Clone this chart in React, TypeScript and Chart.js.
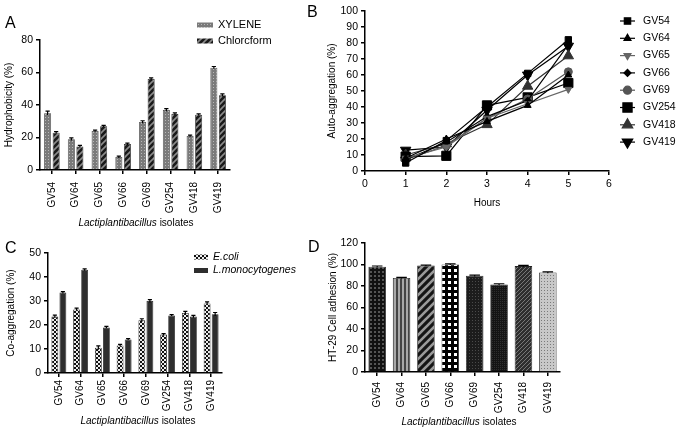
import { useEffect, useRef } from 'react'
import { Chart, registerables } from 'chart.js'
import { drawPoint } from 'chart.js/helpers'

Chart.register(...registerables)

const FONT = "'Liberation Sans', Arial, Helvetica, sans-serif"
Chart.defaults.font.family = FONT
Chart.defaults.color = '#000'

const ISOLATES = ['GV54', 'GV64', 'GV65', 'GV66', 'GV69', 'GV254', 'GV418', 'GV419']

// A: hydrophobicity (%)
const XYLENE = [35, 19, 24, 8, 29.5, 37, 21, 63]
const XYLENE_ERR = [1.2, 0.8, 0.5, 0.6, 0.8, 0.8, 0.5, 0.7]
const CHLORCFORM = [23, 14.5, 27, 16, 56, 34.5, 34, 46]
const CHLORCFORM_ERR = [0.6, 0.6, 0.5, 0.6, 0.7, 0.6, 0.5, 0.8]

// B: auto-aggregation (%) over hours
const HOURS = [1, 2, 3, 4, 5]
const AGG_GV54 = [5, 19, 40, 61, 82]
const AGG_GV64 = [8, 20, 31, 41, 60]
const AGG_GV65 = [8, 15, 33, 42, 51]
const AGG_GV66 = [7, 18, 34, 44, 79]
const AGG_GV69 = [7, 16, 33, 45, 62]
const AGG_GV254 = [9, 9.5, 41, 46, 55]
const AGG_GV418 = [10, 17, 29, 53, 72]
const AGG_GV419 = [13, 15, 38, 60, 78]

// C: co-aggregation (%)
const ECOLI = [23.5, 26.5, 10.5, 11.5, 22, 16, 25, 29]
const ECOLI_ERR = [0.6, 0.5, 0.8, 0.4, 0.6, 0.4, 0.7, 0.6]
const LMONO = [33.5, 43, 19, 14, 30, 24, 23.5, 24.5]
const LMONO_ERR = [0.4, 0.4, 0.4, 0.3, 0.6, 0.3, 0.5, 0.7]

// D: HT-29 cell adhesion (%)
const ADHESION = [98, 87.5, 99, 100, 89.5, 81.5, 98.5, 92.5]
const ADHESION_ERR = [0.6, 0.5, 0.5, 0.5, 0.6, 0.6, 0.6, 0.7]

// --- fill patterns ---
function tile(size: number, draw: (g: CanvasRenderingContext2D, s: number) => void) {
  const c = document.createElement('canvas')
  c.width = size
  c.height = size
  const g = c.getContext('2d')!
  draw(g, size)
  return g.createPattern(c, 'repeat')!
}
const dots = (bg: string, fg: string, s: number, d: number) =>
  tile(s, (g) => { g.fillStyle = bg; g.fillRect(0, 0, s, s); g.fillStyle = fg; g.fillRect(0, 0, d, d) })
const diag = (bg: string, fg: string, s: number, lw: number) =>
  tile(s, (g) => {
    g.fillStyle = bg; g.fillRect(0, 0, s, s)
    g.strokeStyle = fg; g.lineWidth = lw
    g.beginPath()
    g.moveTo(-1, s + 1); g.lineTo(s + 1, -1)
    g.moveTo(-s / 2 - 1, s / 2 + 1); g.lineTo(s / 2 + 1, -s / 2 - 1)
    g.moveTo(s / 2 - 1, s * 1.5 + 1); g.lineTo(s * 1.5 + 1, s / 2 - 1)
    g.stroke()
  })
const vstripes = (bg: string, fg: string, s: number, w: number) =>
  tile(s, (g) => { g.fillStyle = bg; g.fillRect(0, 0, s, s); g.fillStyle = fg; g.fillRect(0, 0, w, s) })
const checker = (bg: string, fg: string, s: number) =>
  tile(s, (g) => {
    g.fillStyle = bg; g.fillRect(0, 0, s, s)
    g.fillStyle = fg; g.fillRect(0, 0, s / 2, s / 2); g.fillRect(s / 2, s / 2, s / 2, s / 2)
  })

// --- plugins ---
const errorBars = {
  id: 'errorBars',
  afterDatasetsDraw(chart: any) {
    const { ctx } = chart
    const y = chart.scales.y
    chart.data.datasets.forEach((ds: any, i: number) => {
      if (!ds.errors) return
      const meta = chart.getDatasetMeta(i)
      ctx.save()
      ctx.strokeStyle = '#000'
      ctx.lineWidth = 1.2
      meta.data.forEach((bar: any, j: number) => {
        const v = ds.data[j]
        const e = ds.errors[j]
        const top = y.getPixelForValue(v + e)
        const bot = y.getPixelForValue(v - e)
        const half = bar.width * 0.3
        ctx.beginPath()
        ctx.moveTo(bar.x, top); ctx.lineTo(bar.x, bot)
        ctx.moveTo(bar.x - half, top); ctx.lineTo(bar.x + half, top)
        ctx.stroke()
      })
      ctx.restore()
    })
  },
}

// swatch legend for bar panels
const swatchLegend = {
  id: 'swatchLegend',
  afterDraw(chart: any, _args: any, opts: any) {
    const { ctx } = chart
    ctx.save()
    chart.data.datasets.forEach((ds: any, i: number) => {
      const y = opts.y + i * opts.dy
      ctx.fillStyle = ds.backgroundColor
      ctx.fillRect(opts.x, y - opts.h / 2, opts.w, opts.h)
      ctx.fillStyle = '#000'
      ctx.font = `${opts.italic ? 'italic ' : ''}${opts.size}px ${FONT}`
      ctx.textBaseline = 'middle'
      ctx.fillText(ds.label, opts.x + opts.w + 5, y)
    })
    ctx.restore()
  },
}

// line + marker legend for panel B
const markerLegend = {
  id: 'markerLegend',
  afterDraw(chart: any, _args: any, opts: any) {
    const { ctx } = chart
    ctx.save()
    chart.data.datasets.forEach((ds: any, i: number) => {
      const y = opts.y + i * opts.dy
      ctx.strokeStyle = ds.borderColor
      ctx.lineWidth = 1.2
      ctx.beginPath()
      ctx.moveTo(opts.x, y); ctx.lineTo(opts.x + opts.w, y)
      ctx.stroke()
      ctx.fillStyle = ds.pointBackgroundColor
      ctx.strokeStyle = ds.borderColor
      drawPoint(ctx, { pointStyle: ds.pointStyle, rotation: ds.pointRotation || 0, radius: ds.pointRadius, borderWidth: 1 }, opts.x + opts.w / 2, y)
      ctx.fillStyle = '#000'
      ctx.font = `10.5px ${FONT}`
      ctx.textBaseline = 'middle'
      ctx.fillText(ds.label, opts.x + opts.w + 8, y)
    })
    ctx.restore()
  },
}

const border = { display: true, color: '#000', width: 1.5 }
const ticksGrid = { drawOnChartArea: false, drawTicks: true, tickLength: 4, color: '#000', lineWidth: 1.5, offset: false }
const tickFont = { size: 10, family: FONT }
const yTickFont = { size: 10.5, family: FONT }

function barX(height: number, pad: number) {
  return {
    offset: true,
    border,
    grid: ticksGrid,
    ticks: { color: '#000', font: tickFont, minRotation: 90, maxRotation: 90, autoSkip: false, padding: pad },
    afterFit: (s: any) => { s.height = height },
  }
}
function yAxis(width: number, max: number, step: number, title: string, titlePad: number) {
  return {
    min: 0,
    max,
    border,
    grid: ticksGrid,
    ticks: { color: '#000', font: yTickFont, stepSize: step, padding: 3 },
    title: { display: true, text: title, color: '#000', font: { size: 10, family: FONT }, padding: { top: titlePad, bottom: 0 } },
    afterFit: (s: any) => { s.width = width },
  }
}

function buildA(): any {
  return {
    type: 'bar',
    data: {
      labels: ISOLATES,
      datasets: [
        { label: 'XYLENE', data: XYLENE, errors: XYLENE_ERR, backgroundColor: dots('#7a7a7a', '#b8b8b8', 3, 1), borderColor: '#444', borderWidth: 0.8 },
        { label: 'Chlorcform', data: CHLORCFORM, errors: CHLORCFORM_ERR, backgroundColor: diag('#1a1a1a', '#8c8c8c', 6, 1.6), borderColor: '#222', borderWidth: 0.8 },
      ],
    },
    options: {
      animation: false,
      responsive: true,
      maintainAspectRatio: false,
      categoryPercentage: 0.72,
      barPercentage: 0.82,
      layout: { padding: { left: 0, top: 40, right: 110, bottom: 0 } },
      plugins: {
        legend: { display: false },
        tooltip: { enabled: false },
        swatchLegend: { x: 197, y: 25, dy: 16, w: 16, h: 5, italic: false, size: 11 },
      },
      scales: {
        x: barX(62, 8),
        y: yAxis(40, 80, 20, 'Hydrophobicity (%)', 3),
      },
    },
    plugins: [errorBars, swatchLegend],
  }
}

function buildB(): any {
  const pts = (arr: number[]) => HOURS.map((h, i) => ({ x: h, y: arr[i] }))
  const series = (label: string, arr: number[], color: string, fill: string, style: string, r: number, rot = 0) => ({
    label,
    data: pts(arr),
    borderColor: color,
    backgroundColor: fill,
    pointBackgroundColor: fill,
    pointBorderColor: color,
    pointStyle: style,
    pointRadius: r,
    pointRotation: rot,
    pointBorderWidth: 1,
    borderWidth: 1.2,
    tension: 0,
  })
  return {
    type: 'line',
    data: {
      datasets: [
        series('GV54', AGG_GV54, '#000', '#000', 'rect', 4.5),
        series('GV64', AGG_GV64, '#000', '#000', 'triangle', 4),
        series('GV65', AGG_GV65, '#666', '#666', 'triangle', 4, 180),
        series('GV66', AGG_GV66, '#000', '#000', 'rectRot', 3.5),
        series('GV69', AGG_GV69, '#555', '#555', 'circle', 4),
        series('GV254', AGG_GV254, '#000', '#000', 'rect', 6.5),
        series('GV418', AGG_GV418, '#333', '#333', 'triangle', 6),
        series('GV419', AGG_GV419, '#000', '#000', 'triangle', 6, 180),
      ],
    },
    options: {
      animation: false,
      responsive: true,
      maintainAspectRatio: false,
      layout: { padding: { left: 0, top: 11, right: 68, bottom: 0 } },
      plugins: {
        legend: { display: false },
        tooltip: { enabled: false },
        markerLegend: { x: 298, y: 21, dy: 17.3, w: 15 },
      },
      scales: {
        x: {
          type: 'linear',
          min: 0,
          max: 6,
          border,
          grid: ticksGrid,
          ticks: { color: '#000', font: yTickFont, stepSize: 1, padding: 3 },
          title: { display: true, text: 'Hours', color: '#000', font: { size: 10, family: FONT }, padding: { top: 2, bottom: 6 } },
          afterFit: (s: any) => { s.height = 44 },
        },
        y: yAxis(43, 100, 10, 'Auto-aggregation (%)', 4),
      },
    },
    plugins: [markerLegend],
  }
}

function buildC(): any {
  return {
    type: 'bar',
    data: {
      labels: ISOLATES,
      datasets: [
        { label: 'E.coli', data: ECOLI, errors: ECOLI_ERR, backgroundColor: checker('#111', '#eee', 4), borderColor: '#222', borderWidth: 0.8 },
        { label: 'L.monocytogenes', data: LMONO, errors: LMONO_ERR, backgroundColor: '#2e2e2e', borderColor: '#222', borderWidth: 0.8 },
      ],
    },
    options: {
      animation: false,
      responsive: true,
      maintainAspectRatio: false,
      categoryPercentage: 0.74,
      barPercentage: 0.85,
      layout: { padding: { left: 0, top: 38, right: 118, bottom: 0 } },
      plugins: {
        legend: { display: false },
        tooltip: { enabled: false },
        swatchLegend: { x: 194, y: 42, dy: 13.5, w: 14, h: 5, italic: true, size: 10.5 },
      },
      scales: {
        x: barX(58, 3),
        y: yAxis(48, 50, 10, 'Co-aggregation (%)', 5),
      },
    },
    plugins: [errorBars, swatchLegend],
  }
}

function buildD(): any {
  const fills = [
    dots('#111', '#555', 4, 2),
    vstripes('#444', '#a8a8a8', 4, 2),
    diag('#151515', '#9a9a9a', 8, 2.6),
    dots('#000', '#fff', 6, 3),
    dots('#1c1c1c', '#4a4a4a', 3, 1),
    dots('#141414', '#2e2e2e', 2, 1),
    diag('#2e2e2e', '#777', 4, 1),
    dots('#c8c8c8', '#7a7a7a', 3, 1),
  ]
  return {
    type: 'bar',
    data: {
      labels: ISOLATES,
      datasets: [
        { label: 'Adhesion', data: ADHESION, errors: ADHESION_ERR, backgroundColor: fills, borderColor: '#222', borderWidth: 0.8 },
      ],
    },
    options: {
      animation: false,
      responsive: true,
      maintainAspectRatio: false,
      categoryPercentage: 0.8,
      barPercentage: 0.9,
      layout: { padding: { left: 0, top: 28, right: 117, bottom: 0 } },
      plugins: { legend: { display: false }, tooltip: { enabled: false } },
      scales: {
        x: barX(59, 6),
        y: yAxis(43, 120, 20, 'HT-29 Cell adhesion (%)', 5),
      },
    },
    plugins: [errorBars],
  }
}

function Panel({ left, top, width, height, build }: { left: number; top: number; width: number; height: number; build: () => any }) {
  const ref = useRef<HTMLCanvasElement>(null)
  useEffect(() => {
    if (!ref.current) return
    const chart = new Chart(ref.current, build())
    return () => chart.destroy()
  }, [])
  return (
    <div style={{ position: 'absolute', left, top, width, height }}>
      <canvas ref={ref} />
    </div>
  )
}

const letter = (ch: string, left: number, top: number) => (
  <div style={{ position: 'absolute', left, top, fontSize: 16, lineHeight: '16px', fontFamily: FONT }}>{ch}</div>
)
const isolatesTitle = (cx: number, top: number) => (
  <div style={{ position: 'absolute', left: cx, top, transform: 'translateX(-50%)', whiteSpace: 'nowrap', fontSize: 10, lineHeight: '12px', fontFamily: FONT }}>
    <i>Lactiplantibacillus</i> isolates
  </div>
)

export default function App() {
  return (
    <div style={{ position: 'absolute', left: 0, top: 0, width: 677, height: 431, background: '#fff', overflow: 'hidden' }}>
      <Panel left={0} top={0} width={340} height={232} build={buildA} />
      <Panel left={322} top={0} width={355} height={215} build={buildB} />
      <Panel left={0} top={215} width={340} height={216} build={buildC} />
      <Panel left={322} top={215} width={355} height={216} build={buildD} />
      {letter('A', 5, 15)}
      {letter('B', 307, 4)}
      {letter('C', 5, 240)}
      {letter('D', 308, 239)}
      {isolatesTitle(136, 217)}
      {isolatesTitle(138, 415)}
      {isolatesTitle(459, 416)}
    </div>
  )
}
